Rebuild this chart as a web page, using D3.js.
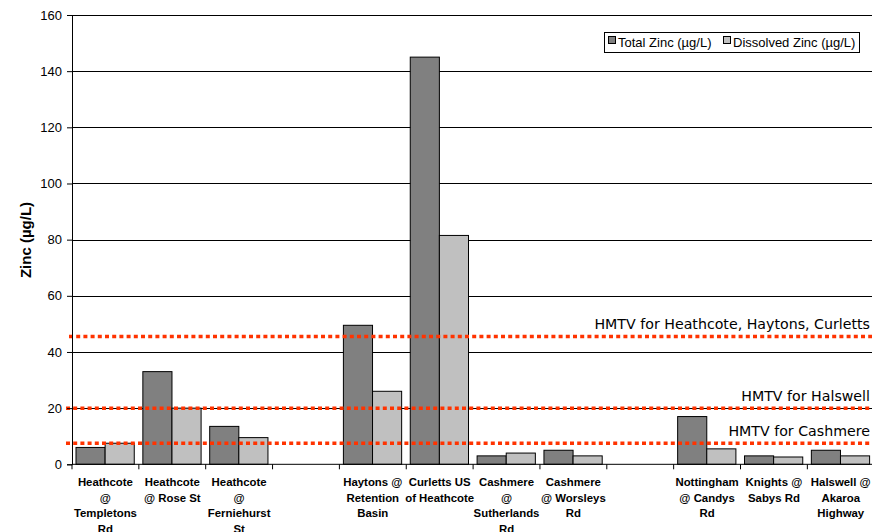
<!DOCTYPE html>
<html><head><meta charset="utf-8">
<script src="https://cdn.jsdelivr.net/npm/d3@7"></script>
<style>body{margin:0;background:#fff}svg{display:block}</style>
</head><body>
<svg id="c" width="872" height="532"></svg>
<script>
const categories = ["Heathcote\n@\nTempletons\nRd", "Heathcote\n@ Rose St", "Heathcote\n@\nFerniehurst\nSt", "",
  "Haytons @\nRetention\nBasin", "Curletts US\nof Heathcote", "Cashmere\n@\nSutherlands\nRd", "Cashmere\n@ Worsleys\nRd", "",
  "Nottingham\n@ Candys\nRd", "Knights @\nSabys Rd", "Halswell @\nAkaroa\nHighway"];
const totalZinc = [6, 33, 13.5, null, 49.5, 145, 3, 5, null, 17, 3, 5];
const dissolvedZinc = [7.5, 20, 9.5, null, 26, 81.5, 4, 3, null, 5.5, 2.6, 3];
const seriesNames = ["Total Zinc (µg/L)", "Dissolved Zinc (µg/L)"];
const seriesColors = ["#808080", "#c0c0c0"];
const hmtvValues = [45.5, 20, 7.5];
const hmtvLabels = ["HMTV for Heathcote, Haytons, Curletts", "HMTV for Halswell", "HMTV for Cashmere"];
const yTicks = [0, 20, 40, 60, 80, 100, 120, 140, 160];

const svg = d3.select("#c");
const mLeft = 72, mRight = 874.2, mTop = 15, mBottom = 464.3;
const y = d3.scaleLinear().domain([0, 160]).range([mBottom, mTop]);
const x0 = d3.scaleBand().domain(categories.map((d, i) => i)).range([mLeft, mRight]).padding(0);
const slot = x0.bandwidth();
const x1 = d3.scaleBand().domain([0, 1]).range([4, slot - 4.6]).padding(0);

// gridlines
svg.append("g").selectAll("line").data(yTicks.filter(d => d > 0)).join("line")
  .attr("x1", mLeft).attr("x2", 872).attr("y1", d => Math.round(y(d)) + 0.5).attr("y2", d => Math.round(y(d)) + 0.5)
  .attr("stroke", "#000").attr("stroke-width", 1);

// bars
const groups = svg.append("g").selectAll("g").data(categories.map((c, i) => i)).join("g")
  .attr("transform", i => `translate(${x0(i)},0)`);
groups.selectAll("rect").data(i => [totalZinc[i], dissolvedZinc[i]].map((v, k) => ({v, k})).filter(d => d.v != null))
  .join("rect")
  .attr("x", d => x1(d.k)).attr("width", x1.bandwidth())
  .attr("y", d => y(d.v)).attr("height", d => y(0) - y(d.v))
  .attr("fill", d => seriesColors[d.k]).attr("stroke", "#000").attr("stroke-width", 1);

// HMTV lines
svg.append("g").selectAll("line").data(hmtvValues).join("line")
  .attr("x1", (d, i) => i === 0 ? 69 : 66).attr("x2", 872)
  .attr("y1", d => y(d)).attr("y2", d => y(d))
  .attr("stroke", "#ff3300").attr("stroke-width", 3.5).attr("stroke-dasharray", "4,3.2");
svg.append("g").selectAll("text").data(hmtvValues).join("text")
  .attr("x", 870).attr("y", d => y(d) - 7.5).attr("text-anchor", "end")
  .attr("font-family", "DejaVu Sans").attr("font-size", 14.2).attr("fill", "#000")
  .text((d, i) => hmtvLabels[i]);

// y axis
const yAxis = svg.append("g").attr("transform", `translate(${mLeft},0)`)
  .call(d3.axisLeft(y).tickValues(yTicks).tickSize(5).tickPadding(5));
yAxis.select(".domain").attr("stroke", "#000");
yAxis.selectAll("text").attr("font-family", "Liberation Sans, Arial").attr("font-size", 13).attr("fill", "#000");

// x axis
const xAxisG = svg.append("g");
xAxisG.append("line").attr("x1", mLeft).attr("x2", 872).attr("y1", mBottom).attr("y2", mBottom).attr("stroke", "#000");
xAxisG.selectAll("line.t").data(d3.range(categories.length + 1)).join("line").attr("class", "t")
  .attr("x1", i => mLeft + i * slot).attr("x2", i => mLeft + i * slot)
  .attr("y1", mBottom).attr("y2", mBottom + 5).attr("stroke", "#000");
const lbl = xAxisG.selectAll("text").data(categories.map((c, i) => i)).join("text")
  .attr("x", i => x0(i) + slot / 2).attr("y", 486)
  .attr("text-anchor", "middle").attr("font-family", "Liberation Sans, Arial")
  .attr("font-weight", "bold").attr("font-size", 11.4).attr("fill", "#000");
lbl.each(function(i) {
  const lines = categories[i].split("\n");
  d3.select(this).selectAll("tspan").data(lines).join("tspan")
    .attr("x", x0(i) + slot / 2).attr("dy", (d, k) => k === 0 ? 0 : 15.5).text(d => d);
});

// y title
svg.append("text").attr("transform", "translate(31,240) rotate(-90)")
  .attr("text-anchor", "middle").attr("font-family", "Liberation Sans, Arial")
  .attr("font-weight", "bold").attr("font-size", 15).text("Zinc (µg/L)");

// legend
const lg = svg.append("g");
lg.append("rect").attr("x", 604.5).attr("y", 32.5).attr("width", 255).attr("height", 20)
  .attr("fill", "#fff").attr("stroke", "#000");
const legX = [608, 723];
seriesNames.forEach((n, k) => {
  lg.append("rect").attr("x", legX[k] + 0.5).attr("y", 36.5).attr("width", 7).attr("height", 7)
    .attr("fill", seriesColors[k]).attr("stroke", "#000");
  lg.append("text").attr("x", legX[k] + 10).attr("y", 46.5)
    .attr("font-family", "Liberation Sans, Arial").attr("font-size", 13).text(n);
});
</script>
</body></html>
